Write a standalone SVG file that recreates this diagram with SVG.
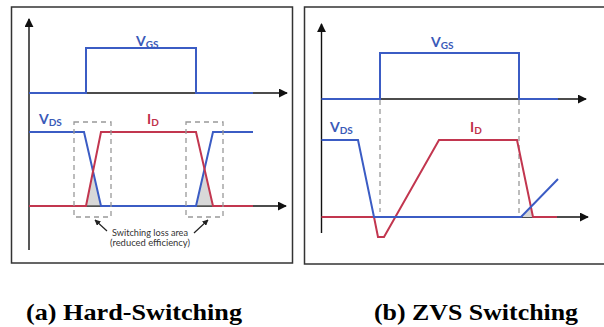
<svg xmlns="http://www.w3.org/2000/svg" width="604" height="327" viewBox="0 0 604 327">
<defs>
<marker id="ah" viewBox="0 0 10 10" refX="9" refY="5" markerWidth="9" markerHeight="9" markerUnits="userSpaceOnUse" orient="auto"><path d="M0,0L10,5L0,10z" fill="#111"/></marker>
<marker id="sa" viewBox="0 0 10 10" refX="9" refY="5" markerWidth="6" markerHeight="6" markerUnits="userSpaceOnUse" orient="auto"><path d="M0,0L10,5L0,10z" fill="#222"/></marker>
<style>
.frame{fill:#fff;stroke:#333;stroke-width:1.5}
.axis{fill:none;stroke:#111;stroke-width:1.4}
.b{fill:none;stroke:#3b5cc4;stroke-width:2;stroke-linejoin:miter}
.r{fill:none;stroke:#c2364f;stroke-width:2;stroke-linejoin:miter}
.dash{fill:none;stroke:#999;stroke-width:1.3;stroke-dasharray:5,4}
.shade{fill:#d8d8d8}
.lb{font-family:Lato,"Open Sans",sans-serif;font-weight:bold;font-size:14px;fill:#3a5ab8}
.lr{font-family:Lato,"Open Sans",sans-serif;font-weight:bold;font-size:14px;fill:#c0304a}
.sub{font-size:10px}
.note{font-family:Lato,"Open Sans",sans-serif;font-size:9.5px;fill:#333}
.cap{font-family:"Liberation Serif","Times New Roman",Times,serif;font-weight:bold;font-size:23px;fill:#000}
</style>
</defs>
<rect width="604" height="327" fill="#fff"/>
<g id="panel-a">
<rect class="frame" x="11.5" y="7" width="281" height="256"/>
<g id="axes-a">
<path class="axis" d="M29,250V19" marker-end="url(#ah)"/>
<path class="axis" d="M29,93H287" marker-end="url(#ah)"/>
<path class="axis" d="M29,206H286" marker-end="url(#ah)"/>
</g>
<g id="shade-a">
<polygon class="shade" points="86,206 93,169 101,206"/>
<polygon class="shade" points="196,206 204.5,169 213,206"/>
<path d="M86,206H101M196,206H213" stroke="#555" stroke-width="1.4"/>
</g>
<g id="vgs-a">
<path class="b" d="M29,93H86V48H196V93H253"/>
<text class="lb" x="136" y="46">V<tspan class="sub" dy="2">GS</tspan></text>
</g>
<g id="vds-a">
<path class="b" d="M29,132H84L101,206H196L213,132H253"/>
<text class="lb" x="39" y="124">V<tspan class="sub" dy="2">DS</tspan></text>
</g>
<g id="id-a">
<path class="r" d="M29,206H86L101,132H196L213,206H253"/>
<text class="lr" x="147" y="124">I<tspan class="sub" dy="2">D</tspan></text>
</g>
<g id="loss-boxes">
<rect class="dash" x="74" y="122" width="37" height="95"/>
<rect class="dash" x="186" y="122" width="37" height="95"/>
</g>
<g id="loss-note">
<text class="note" x="150" y="236" text-anchor="middle" textLength="76" lengthAdjust="spacingAndGlyphs">Switching loss area</text>
<text class="note" x="150" y="246" text-anchor="middle" textLength="80" lengthAdjust="spacingAndGlyphs">(reduced efficiency)</text>
</g>
<g id="connectors">
<path d="M107,231L95,220" stroke="#222" stroke-width="1.2" marker-end="url(#sa)"/>
<path d="M194,233L208,220" stroke="#222" stroke-width="1.2" marker-end="url(#sa)"/>
</g>
</g>
<g id="panel-b">
<rect class="frame" x="304.5" y="7" width="310" height="257"/>
<g id="axes-b">
<path class="axis" d="M321.5,233V24" marker-end="url(#ah)"/>
<path class="axis" d="M321.5,99H586" marker-end="url(#ah)"/>
<path class="axis" d="M321.5,217H588" marker-end="url(#ah)"/>
</g>
<g id="guides-b">
<path class="dash" d="M380,100V212M519,100V216"/>
</g>
<g id="shade-b">
<polygon class="shade" points="522,217 531,208 533,217"/>
</g>
<g id="vgs-b">
<path class="b" d="M321.5,99H380V53H519V99H558"/>
<text class="lb" x="431" y="47">V<tspan class="sub" dy="2">GS</tspan></text>
</g>
<g id="id-b">
<path class="r" d="M321.5,217H374L378,237H384L439,140H517L533,217H557"/>
<text class="lr" x="470" y="132">I<tspan class="sub" dy="2">D</tspan></text>
</g>
<g id="vds-b">
<path class="b" d="M321.5,140H358L374,217H521L558,179"/>
<text class="lb" x="330" y="132">V<tspan class="sub" dy="2">DS</tspan></text>
</g>
</g>
<g id="captions">
<text class="cap" x="26" y="320" textLength="216" lengthAdjust="spacingAndGlyphs">(a) Hard-Switching</text>
<text class="cap" x="374" y="320" textLength="204" lengthAdjust="spacingAndGlyphs">(b) ZVS Switching</text>
</g>
</svg>
